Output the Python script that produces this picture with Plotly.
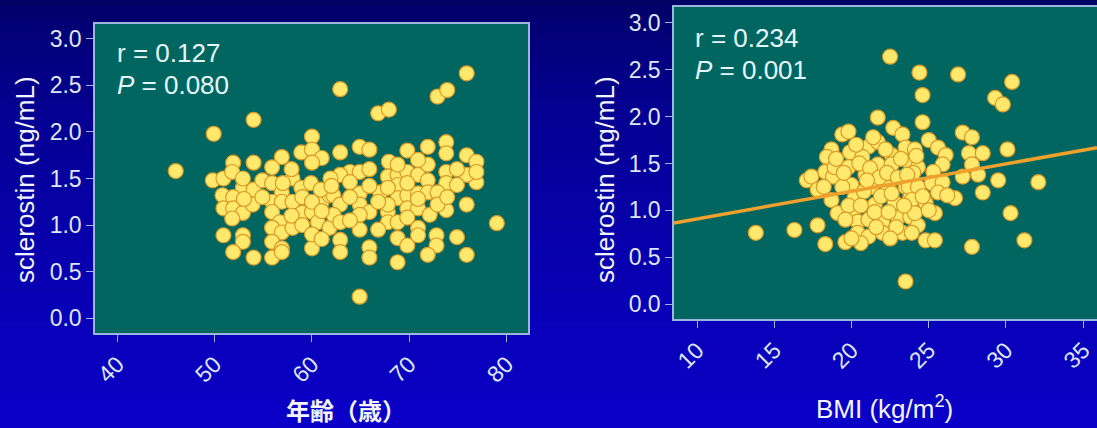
import plotly.graph_objects as go

# --- sclerostin vs age ---
age = [46.0, 49.9, 54.0, 62.9, 66.8, 67.9, 72.9, 73.9, 75.9, 79.0, 64.9, 60.0, 58.9, 60.0,
       61.0, 60.0, 51.9, 54.0, 56.9, 55.9, 49.8, 50.9, 51.8, 52.9, 54.0, 54.9, 55.9, 56.9,
       58.0, 50.8, 51.9, 50.9, 51.9, 52.9, 51.8, 55.9, 56.9, 58.0, 55.9, 56.7, 55.9, 56.9,
       58.0, 59.0, 60.0, 61.0, 61.8, 60.6, 61.8, 50.9, 52.9, 52.9, 51.9, 54.0, 55.9, 56.9,
       55.9, 56.9, 60.0, 62.9, 64.9, 65.9, 69.8, 71.9, 73.8, 73.8, 75.9, 76.9, 76.9, 75.9,
       67.9, 63.9, 62.9, 64.9, 63.9, 67.8, 68.8, 69.8, 70.9, 71.9, 71.9, 73.8, 73.8, 74.9,
       67.0, 68.8, 68.8, 69.8, 70.9, 71.9, 72.9, 62.2, 62.9, 64.9, 64.9, 65.9, 67.8, 69.8,
       70.9, 72.1, 73.8, 75.9, 62.2, 62.9, 64.9, 64.9, 67.8, 68.8, 70.9, 68.8, 69.8, 70.9,
       72.8, 72.8, 74.9, 62.9, 62.9, 65.9, 65.9, 68.8, 71.9, 75.9, 67.8,
       58.9, 59.9, 60.9, 61.9, 59.0, 60.0, 61.0, 62.0, 57.9, 59.0, 60.0, 61.0, 63.9, 65.9,
       66.8, 67.8, 69.8, 70.9, 69.8, 66.8, 72.9, 73.9, 74.9, 76.9, 53.9, 54.9, 52.9, 57.9,
       63.9, 65.9, 68.8, 70.9, 57.0, 53.0]
scl_age = [1.58, 1.98, 2.13, 2.46, 2.20, 2.24, 2.38, 2.45, 2.63, 1.02, 0.23, 1.95, 1.78, 1.81,
           1.72, 1.67, 1.67, 1.67, 1.73, 1.62, 1.48, 1.50, 1.57, 1.40, 1.38, 1.48, 1.45, 1.35,
           1.50, 1.32, 1.30, 1.18, 1.18, 1.13, 1.07, 1.25, 1.25, 1.25, 1.14, 1.03, 0.97, 0.92,
           0.97, 1.13, 1.14, 1.25, 1.32, 1.03, 0.97, 0.89, 0.89, 0.82, 0.71, 0.65, 0.82, 0.75,
           0.65, 0.71, 0.75, 1.78, 1.84, 1.81, 1.80, 1.84, 1.89, 1.77, 1.75, 1.68, 1.46, 1.54,
           1.68, 1.57, 1.54, 1.57, 1.46, 1.52, 1.54, 1.57, 1.54, 1.65, 1.48, 1.57, 1.45, 1.43,
           1.35, 1.43, 1.29, 1.32, 1.34, 1.35, 1.35, 1.32, 1.22, 1.34, 1.22, 1.14, 1.14, 1.18,
           1.18, 1.11, 1.16, 1.22, 1.11, 1.03, 1.11, 0.95, 1.03, 1.03, 0.97, 0.86, 0.78, 0.89,
           0.89, 0.78, 0.87, 0.84, 0.71, 0.76, 0.65, 0.60, 0.68, 0.68, 1.22,
           1.40, 1.45, 1.38, 1.50, 1.30, 1.25, 1.15, 1.42, 1.10, 1.00, 0.90, 0.85, 1.30, 1.42,
           1.25, 1.40, 1.45, 1.28, 1.08, 0.95, 1.22, 1.30, 1.60, 1.57, 1.22, 1.30, 1.50, 1.60,
           1.05, 1.60, 1.65, 1.70, 1.45, 1.28]

# --- sclerostin vs BMI ---
bmi = [22.5, 13.8, 16.3, 17.8, 18.3, 19.6, 23.5, 21.7, 19.4, 19.8, 22.7, 23.3, 18.7, 18.4,
       19.9, 21.1, 21.7, 20.7, 22.6, 23.5, 17.1, 17.4, 17.8, 18.3, 18.8, 19.8, 20.9, 21.7,
       22.6, 23.7, 20.0, 21.3, 22.4, 23.5, 18.7, 20.2, 21.5, 22.8, 23.8, 19.1, 20.1, 20.4,
       21.1, 22.0, 23.0, 23.8, 20.4, 21.1, 22.0, 23.3, 20.6, 18.9, 19.4, 24.4, 26.9, 30.4,
       29.3, 29.8, 24.6, 24.6, 27.2, 27.8, 30.1, 27.6, 28.5, 25.0, 25.6, 26.1, 25.9, 27.8,
       24.1, 24.3, 25.3, 27.2, 28.2, 29.5, 32.1, 28.5, 30.3, 31.2, 27.8, 26.7, 25.4, 24.8,
       25.4, 24.3, 23.9, 23.7, 24.3, 25.2, 25.9, 23.9, 24.8, 25.6, 26.2, 24.1, 25.0,
       19.5, 20.5, 21.2, 21.8, 22.3, 23.0, 23.2, 24.0, 20.8, 21.9, 22.6, 23.4, 19.8, 20.6,
       21.5, 22.4, 22.9, 21.6, 19.6, 20.3, 21.4, 22.2, 24.2, 18.2, 19.0, 20.0, 22.5, 23.6,
       24.6, 21.0]
scl_bmi = [2.64, 0.76, 0.79, 0.84, 0.64, 0.66, 0.24, 1.99, 1.81, 1.84, 1.88, 1.81, 1.65, 1.57,
           1.62, 1.68, 1.73, 1.57, 1.59, 1.67, 1.32, 1.36, 1.22, 1.41, 1.36, 1.46, 1.38, 1.49,
           1.49, 1.52, 1.27, 1.25, 1.24, 1.25, 1.11, 1.14, 1.06, 1.08, 1.14, 0.97, 1.00, 0.88,
           0.90, 0.87, 0.92, 0.93, 0.76, 0.72, 0.76, 0.76, 0.65, 1.46, 1.25, 2.47, 2.45, 2.37,
           2.20, 2.13, 2.23, 1.94, 1.83, 1.78, 1.65, 1.61, 1.61, 1.75, 1.67, 1.59, 1.49, 1.49,
           1.65, 1.46, 1.41, 1.36, 1.38, 1.32, 1.30, 1.19, 0.97, 0.68, 0.61, 1.13, 0.97, 0.68,
           0.68, 0.84, 0.76, 1.25, 1.25, 1.29, 1.30, 1.11, 1.08, 1.19, 1.16, 0.97, 1.00,
           1.40, 1.50, 1.45, 1.35, 1.40, 1.35, 1.55, 1.40, 1.20, 1.15, 1.18, 1.05, 1.05, 1.05,
           0.98, 0.98, 0.82, 0.82, 0.90, 1.70, 1.78, 1.65, 1.58, 1.25, 1.55, 0.70, 0.70, 1.38,
           1.15, 1.32]

# regression line for the BMI panel
fit_intercept = 0.616
fit_slope = 0.0293

age_ticks = [40, 50, 60, 70, 80]
bmi_ticks = [10, 15, 20, 25, 30, 35]
scl_ticks = [0.0, 0.5, 1.0, 1.5, 2.0, 2.5, 3.0]
stats_age = ["r = 0.127", "<i>P</i> = 0.080"]
stats_bmi = ["r = 0.234", "<i>P</i> = 0.001"]

W, H = 1097, 428
LATIN = "Liberation Sans, Arial, sans-serif"
CJK = "Noto Sans CJK JP, sans-serif"
TICK_COLOR = "#dfe6ff"
FRAME = "#9db6e0"
PANEL_BG = "#00665f"

marker = dict(size=15, color="#ffe86c", line=dict(color="#d99a28", width=1.2))

fig = go.Figure()
fig.add_trace(go.Scatter(x=age, y=scl_age, mode="markers", marker=marker,
                         xaxis="x", yaxis="y", showlegend=False, hoverinfo="x+y"))
fig.add_trace(go.Scatter(x=bmi, y=scl_bmi, mode="markers", marker=marker,
                         xaxis="x2", yaxis="y2", showlegend=False, hoverinfo="x+y"))

bmi_range = [8.5, 35.9]
fig.add_trace(go.Scatter(x=bmi_range,
                         y=[fit_intercept + fit_slope * b for b in bmi_range],
                         mode="lines", line=dict(color="#f0a02c", width=3.5),
                         xaxis="x2", yaxis="y2", showlegend=False, hoverinfo="skip"))

def px_x(p):
    return p / W

def px_y(p):
    return 1 - p / H

axis_common = dict(
    showgrid=False, zeroline=False, showline=True, linecolor=FRAME, linewidth=1.5,
    mirror=True, ticks="outside", ticklen=7, tickwidth=1.2, tickcolor=FRAME,
    tickfont=dict(family=LATIN, size=23, color=TICK_COLOR), automargin=False,
)

fig.update_layout(
    width=W, height=H,
    margin=dict(l=0, r=0, t=0, b=0),
    paper_bgcolor="#0800b4",
    plot_bgcolor=PANEL_BG,
    xaxis=dict(axis_common, domain=[px_x(95), px_x(528)], range=[37.7, 82.2],
               tickvals=age_ticks, tickangle=-45, anchor="y"),
    yaxis=dict(axis_common, domain=[px_y(333), px_y(24)], range=[-0.16, 3.16],
               tickvals=scl_ticks, tickformat=".1f", anchor="x"),
    xaxis2=dict(axis_common, domain=[px_x(674), 1.0], range=bmi_range,
                tickvals=bmi_ticks, tickangle=-45, anchor="y2"),
    yaxis2=dict(axis_common, domain=[px_y(319), px_y(7)], range=[-0.16, 3.17],
                tickvals=scl_ticks, tickformat=".1f", anchor="x2"),
)

# vertical background gradient, dark navy at top to bright blue at bottom
top_rgb = (0, 0, 92)
bot_rgb = (10, 0, 200)
bands = 60
for i in range(bands):
    t = ((i + 0.5) / bands) ** 0.55
    c = tuple(round(a + (b - a) * t) for a, b in zip(top_rgb, bot_rgb))
    fig.add_shape(type="rect", xref="paper", yref="paper", layer="below",
                  x0=0, x1=1, y0=1 - (i + 1) / bands, y1=1 - i / bands + 0.002,
                  line=dict(width=0), fillcolor="rgb(%d,%d,%d)" % c)

# teal panel fills laid over the gradient
for xr, yr in [("x", "y"), ("x2", "y2")]:
    fig.add_shape(type="rect", xref=xr + " domain", yref=yr + " domain", layer="below",
                  x0=0, x1=1, y0=0, y1=1, line=dict(width=0), fillcolor=PANEL_BG)

ann_font = dict(family=LATIN, size=26, color="#e6f6ff")
for text, yp in zip(stats_age, [53, 85]):
    fig.add_annotation(text=text, xref="paper", yref="paper", x=px_x(115), y=px_y(yp),
                       xanchor="left", yanchor="middle", showarrow=False, font=ann_font)
for text, yp in zip(stats_bmi, [38, 70]):
    fig.add_annotation(text=text, xref="paper", yref="paper", x=px_x(693), y=px_y(yp),
                       xanchor="left", yanchor="middle", showarrow=False, font=ann_font)

title_font = dict(family=LATIN, size=26, color="#f2f4ff")
for xp in [25, 605]:
    fig.add_annotation(text="sclerostin (ng/mL)", xref="paper", yref="paper",
                       x=px_x(xp), y=px_y(180), textangle=-90, showarrow=False,
                       xanchor="center", yanchor="middle", font=title_font)

fig.add_annotation(text="<b>年齢（歳）</b>", xref="paper", yref="paper",
                   x=px_x(346), y=px_y(409), showarrow=False,
                   xanchor="center", yanchor="middle",
                   font=dict(family=CJK, size=24, color="#f2f4ff"))
fig.add_annotation(text="BMI (kg/m<sup>2</sup>)", xref="paper", yref="paper",
                   x=px_x(884), y=px_y(407), showarrow=False,
                   xanchor="center", yanchor="middle", font=title_font)

fig.write_html("out.html")
